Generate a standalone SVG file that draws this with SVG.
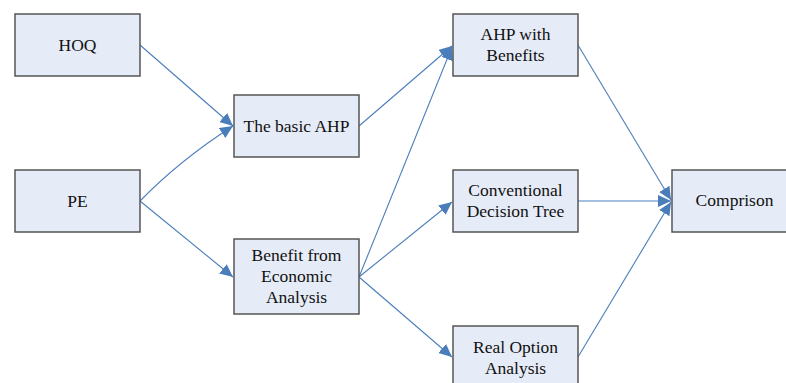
<svg xmlns="http://www.w3.org/2000/svg" width="786" height="383" viewBox="0 0 786 383">
<style>
.box{fill:#e6ecf7;stroke:#555555;stroke-width:1.5}
.lbl{font-family:'Liberation Serif','DejaVu Serif',serif;font-size:17.5px;fill:#111111;text-anchor:middle}
.edge{fill:none;stroke:#4a7ebb;stroke-width:1.1}
</style>
<defs>
<marker id="arr" markerUnits="userSpaceOnUse" markerWidth="14" markerHeight="13" refX="13" refY="6" orient="auto" viewBox="0 0 14 13">
<path d="M0,0 L13,6 L0,12 z" fill="#4a7ebb"/>
</marker>
</defs>
<rect width="786" height="383" fill="#ffffff"/>
<g id="connectors">
<path class="edge" marker-end="url(#arr)" d="M140,45 L233,126"/>
<path class="edge" marker-end="url(#arr)" d="M140,201 Q180,160 233,126"/>
<path class="edge" marker-end="url(#arr)" d="M140,201 L233,277"/>
<path class="edge" marker-end="url(#arr)" d="M359,126 L452,46"/>
<path class="edge" marker-end="url(#arr)" d="M359,277 L452,47"/>
<path class="edge" marker-end="url(#arr)" d="M359,277 L452,202"/>
<path class="edge" marker-end="url(#arr)" d="M359,277 L452,357"/>
<path class="edge" marker-end="url(#arr)" d="M578,45 L671,200"/>
<path class="edge" marker-end="url(#arr)" d="M578,201 L671,201"/>
<path class="edge" marker-end="url(#arr)" d="M578,357 L671,202"/>
</g>
<g id="hoq"><rect class="box" x="15" y="14" width="125" height="62"/><text class="lbl" font-family="Liberation Serif" x="77.5" y="51">HOQ</text></g>
<g id="pe"><rect class="box" x="15" y="170" width="125" height="62"/><text class="lbl" font-family="Liberation Serif" x="77.5" y="207">PE</text></g>
<g id="basic-ahp"><rect class="box" x="234" y="95" width="125" height="62"/><text class="lbl" font-family="Liberation Serif" x="296.5" y="132">The basic AHP</text></g>
<g id="benefit"><rect class="box" x="234" y="239" width="125" height="75"/><text class="lbl" font-family="Liberation Serif" x="296.5" y="261">Benefit from</text><text class="lbl" font-family="Liberation Serif" x="296.5" y="282">Economic</text><text class="lbl" font-family="Liberation Serif" x="296.5" y="303">Analysis</text></g>
<g id="ahp-benefits"><rect class="box" x="453" y="14" width="125" height="62"/><text class="lbl" font-family="Liberation Serif" x="515.5" y="40">AHP with</text><text class="lbl" font-family="Liberation Serif" x="515.5" y="61">Benefits</text></g>
<g id="conventional"><rect class="box" x="453" y="170" width="125" height="62"/><text class="lbl" font-family="Liberation Serif" x="515.5" y="196">Conventional</text><text class="lbl" font-family="Liberation Serif" x="515.5" y="217">Decision Tree</text></g>
<g id="real-option"><rect class="box" x="453" y="326" width="125" height="62"/><text class="lbl" font-family="Liberation Serif" x="515.5" y="353">Real Option</text><text class="lbl" font-family="Liberation Serif" x="515.5" y="374">Analysis</text></g>
<g id="comprison"><rect class="box" x="672" y="170" width="125" height="62"/><text class="lbl" font-family="Liberation Serif" x="734.5" y="206">Comprison</text></g>
</svg>
